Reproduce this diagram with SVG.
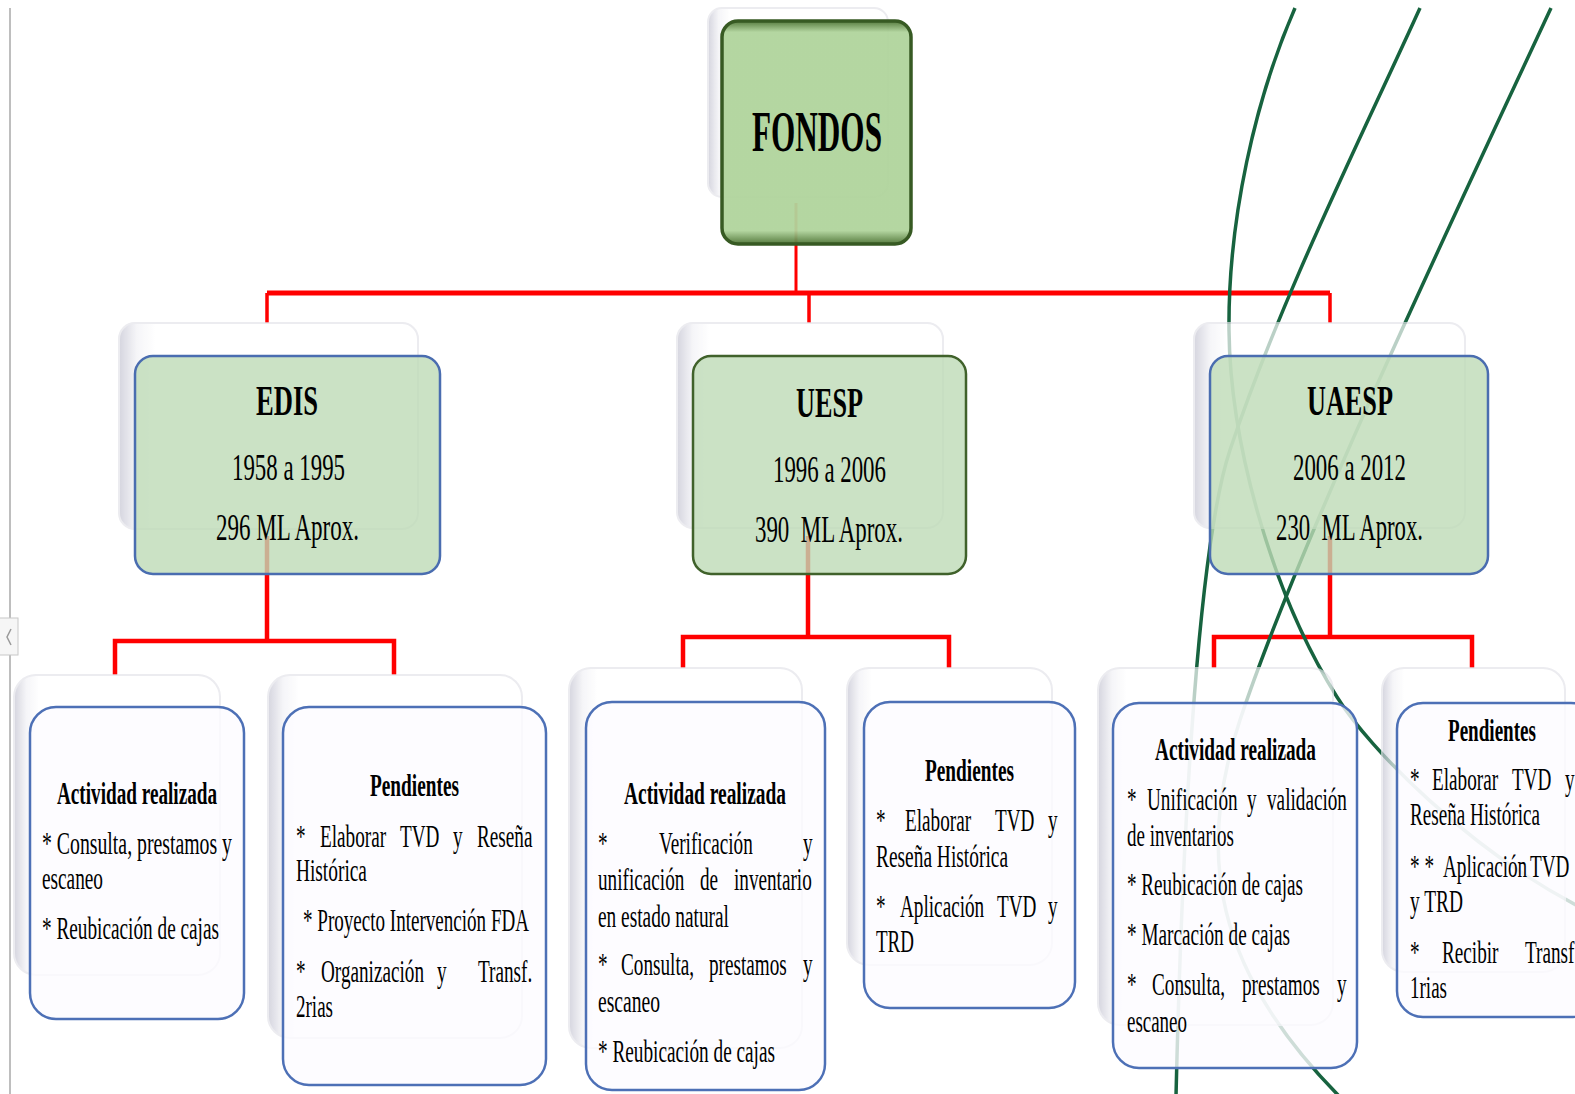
<svg xmlns="http://www.w3.org/2000/svg" width="1575" height="1094" viewBox="0 0 1575 1094">
<style>
.shadow{fill:url(#sh);stroke:#e4e4ea;stroke-width:2;opacity:0.7}
.lvl1{fill:rgb(190,219,183);fill-opacity:0.8;stroke:#4a6db0;stroke-width:2.5}
.lvl1g{fill:rgb(190,219,183);fill-opacity:0.8;stroke:#40622b;stroke-width:2.5}
.leaf{fill:#fdfbff;fill-opacity:0.8;stroke:#4d70b6;stroke-width:2.5}
.red{fill:none;stroke:#ff0000;stroke-linejoin:miter}
.curve{fill:none;stroke:#17633f;stroke-width:3.5}
text{font-family:"Liberation Serif","Times New Roman",serif;fill:#000}
.h0{font-size:56px;font-weight:bold}
.h1{font-size:42px;font-weight:bold}
.yr{font-size:37px}
.ti{font-size:32px;font-weight:bold}
.bd{font-size:32px}
</style>
<defs>
<linearGradient id="sh" x1="0" y1="0" x2="1" y2="0">
<stop offset="0" stop-color="#c4c4d2"/>
<stop offset="0.06" stop-color="#f2f2f6"/>
<stop offset="0.12" stop-color="#ffffff"/>
<stop offset="1" stop-color="#ffffff"/>
</linearGradient>
<linearGradient id="fg" x1="0" y1="0" x2="0" y2="1">
<stop offset="0" stop-color="#4d7434"/>
<stop offset="0.05" stop-color="#b0d49c"/>
<stop offset="0.94" stop-color="#b0d49c"/>
<stop offset="1" stop-color="#4d7434"/>
</linearGradient>
</defs>
<rect x="0" y="0" width="1575" height="1094" fill="#ffffff"/>
<line x1="10" y1="8" x2="10" y2="1094" stroke="#a8a8a8" stroke-width="1.5"/>
<g id="side-tab">
<rect x="-1" y="618" width="19" height="37" fill="#f6f6f6" stroke="#c8c8c8" stroke-width="1"/>
<path d="M11,629 L7,637 L11,645" fill="none" stroke="#9a9a9a" stroke-width="1.5"/>
</g>

<g id="connectors">
<path class="red" stroke-width="3" d="M796,203 V293"/>
<path class="red" stroke-width="5" d="M267,293 H1330"/>
<path class="red" stroke-width="3.5" d="M267,293 V323 M809,293 V323 M1330,293 V323"/>
<path class="red" stroke-width="4.5" d="M267,536 V641 M115,675 V641 H394 V675"/>
<path class="red" stroke-width="4.5" d="M808,536 V637 M683,668 V637 H949 V668"/>
<path class="red" stroke-width="4.5" d="M1330,536 V637 M1214,668 V637 H1472 V668"/>
</g>

<g id="decor-curves">
<path class="curve" d="M1295,8 C1255,100 1228,220 1229,330 C1230,440 1270,590 1337,697 C1370,750 1470,850 1578,906"/>
<path class="curve" d="M1420,8 C1360,140 1280,300 1230,450 C1200,540 1183,800 1176,1096"/>
<path class="curve" d="M1551,8 C1450,225 1300,540 1240,720 C1195,855 1215,970 1339,1096"/>
</g>

<g id="fondos">
<rect class="shadow" x="708" y="8" width="180" height="189" rx="14"/>
<rect x="722" y="21" width="189" height="223" rx="16" fill="url(#fg)" fill-opacity="0.95" stroke="#375a23" stroke-width="3.5"/>
<g transform="scale(0.6,1)">
<text class="h0" x="1253.3" y="151" textLength="216.7" lengthAdjust="spacingAndGlyphs">FONDOS</text>
</g>
</g>

<g id="edis">
<rect class="shadow" x="119" y="323" width="299" height="206" rx="16"/>
<rect class="lvl1" x="135" y="356" width="305" height="218" rx="18"/>
<g transform="scale(0.6,1)">
<text class="h1" x="426.7" y="415" textLength="103.3" lengthAdjust="spacingAndGlyphs">EDIS</text>
<text class="yr" x="386.7" y="480" textLength="188.3" lengthAdjust="spacingAndGlyphs">1958 a 1995</text>
<text class="yr" x="360" y="540" textLength="238.3" lengthAdjust="spacingAndGlyphs">296 ML Aprox.</text>
</g>
</g>

<g id="uesp">
<rect class="shadow" x="677" y="323" width="266" height="205" rx="16"/>
<rect class="lvl1g" x="693" y="356" width="273" height="218" rx="18"/>
<g transform="scale(0.6,1)">
<text class="h1" x="1326.7" y="417" textLength="111.7" lengthAdjust="spacingAndGlyphs">UESP</text>
<text class="yr" x="1288.3" y="482" textLength="188.3" lengthAdjust="spacingAndGlyphs">1996 a 2006</text>
<text class="yr" x="1258.3" y="542" textLength="246.7" lengthAdjust="spacingAndGlyphs" xml:space="preserve">390  ML Aprox.</text>
</g>
</g>

<g id="uaesp">
<rect class="shadow" x="1194" y="323" width="271" height="205" rx="16"/>
<rect class="lvl1" x="1210" y="356" width="278" height="218" rx="18"/>
<g transform="scale(0.6,1)">
<text class="h1" x="2178.3" y="415" textLength="143.3" lengthAdjust="spacingAndGlyphs">UAESP</text>
<text class="yr" x="2155" y="480" textLength="188.3" lengthAdjust="spacingAndGlyphs">2006 a 2012</text>
<text class="yr" x="2126.7" y="540" textLength="245" lengthAdjust="spacingAndGlyphs" xml:space="preserve">230  ML Aprox.</text>
</g>
</g>

<g id="edis-actividad">
<rect class="shadow" x="14" y="675" width="206" height="300" rx="22"/>
<rect class="leaf" x="30" y="707" width="214" height="312" rx="26"/>
<g transform="scale(0.6,1)">
<text class="ti" x="95" y="804" textLength="266.7" lengthAdjust="spacingAndGlyphs">Actividad realizada</text>
<text class="bd" x="70" y="854" textLength="316.7" lengthAdjust="spacingAndGlyphs">* Consulta, prestamos y</text>
<text class="bd" x="70" y="889" textLength="101.7" lengthAdjust="spacingAndGlyphs">escaneo</text>
<text class="bd" x="70" y="939" textLength="295" lengthAdjust="spacingAndGlyphs">* Reubicación de cajas</text>
</g>
</g>

<g id="edis-pendientes">
<rect class="shadow" x="268" y="675" width="254" height="363" rx="22"/>
<rect class="leaf" x="283" y="707" width="263" height="378" rx="26"/>
<g transform="scale(0.6,1)">
<text class="ti" x="616.7" y="796" textLength="148.3" lengthAdjust="spacingAndGlyphs">Pendientes</text>
<text class="bd" y="847"><tspan x="493.3">*</tspan><tspan x="533.3">Elaborar</tspan><tspan x="666.7">TVD</tspan><tspan x="755">y</tspan><tspan x="795">Reseña</tspan></text>
<text class="bd" x="493.3" y="881" textLength="118.3" lengthAdjust="spacingAndGlyphs">Histórica</text>
<text class="bd" x="505" y="931" textLength="376.7" lengthAdjust="spacingAndGlyphs">* Proyecto Intervención FDA</text>
<text class="bd" y="982"><tspan x="493.3">*</tspan><tspan x="535">Organización</tspan><tspan x="728.3">y</tspan><tspan x="796.7">Transf.</tspan></text>
<text class="bd" x="493.3" y="1017" textLength="61.7" lengthAdjust="spacingAndGlyphs">2rias</text>
</g>
</g>

<g id="uesp-actividad">
<rect class="shadow" x="569" y="668" width="233" height="380" rx="22"/>
<rect class="leaf" x="586" y="702" width="239" height="388" rx="26"/>
<g transform="scale(0.6,1)">
<text class="ti" x="1040" y="804" textLength="270" lengthAdjust="spacingAndGlyphs">Actividad realizada</text>
<text class="bd" y="854"><tspan x="996.7">*</tspan><tspan x="1098.3">Verificación</tspan><tspan x="1338.3">y</tspan></text>
<text class="bd" y="890"><tspan x="996.7">unificación</tspan><tspan x="1166.7">de</tspan><tspan x="1223.3">inventario</tspan></text>
<text class="bd" x="996.7" y="927" textLength="218.3" lengthAdjust="spacingAndGlyphs">en estado natural</text>
<text class="bd" y="975"><tspan x="996.7">*</tspan><tspan x="1035">Consulta,</tspan><tspan x="1181.7">prestamos</tspan><tspan x="1338.3">y</tspan></text>
<text class="bd" x="996.7" y="1012" textLength="103.3" lengthAdjust="spacingAndGlyphs">escaneo</text>
<text class="bd" x="996.7" y="1062" textLength="295" lengthAdjust="spacingAndGlyphs">* Reubicación de cajas</text>
</g>
</g>

<g id="uesp-pendientes">
<rect class="shadow" x="847" y="668" width="205" height="297" rx="22"/>
<rect class="leaf" x="864" y="702" width="211" height="306" rx="26"/>
<g transform="scale(0.6,1)">
<text class="ti" x="1541.7" y="781" textLength="148.3" lengthAdjust="spacingAndGlyphs">Pendientes</text>
<text class="bd" y="831"><tspan x="1460">*</tspan><tspan x="1508.3">Elaborar</tspan><tspan x="1658.3">TVD</tspan><tspan x="1746.7">y</tspan></text>
<text class="bd" x="1460" y="867" textLength="220" lengthAdjust="spacingAndGlyphs">Reseña Histórica</text>
<text class="bd" y="917"><tspan x="1460">*</tspan><tspan x="1500">Aplicación</tspan><tspan x="1661.7">TVD</tspan><tspan x="1746.7">y</tspan></text>
<text class="bd" x="1460" y="952" textLength="63.3" lengthAdjust="spacingAndGlyphs">TRD</text>
</g>
</g>

<g id="uaesp-actividad">
<rect class="shadow" x="1098" y="668" width="235" height="357" rx="22"/>
<rect class="leaf" x="1113" y="703" width="244" height="365" rx="26"/>
<g transform="scale(0.6,1)">
<text class="ti" x="1925" y="760" textLength="268.3" lengthAdjust="spacingAndGlyphs">Actividad realizada</text>
<text class="bd" y="810"><tspan x="1878.3">*</tspan><tspan x="1911.7">Unificación</tspan><tspan x="2078.3">y</tspan><tspan x="2111.7">validación</tspan></text>
<text class="bd" x="1878.3" y="846" textLength="178.3" lengthAdjust="spacingAndGlyphs">de inventarios</text>
<text class="bd" x="1878.3" y="895" textLength="293.3" lengthAdjust="spacingAndGlyphs">* Reubicación de cajas</text>
<text class="bd" x="1878.3" y="945" textLength="271.7" lengthAdjust="spacingAndGlyphs">* Marcación de cajas</text>
<text class="bd" y="995"><tspan x="1878.3">*</tspan><tspan x="1920">Consulta,</tspan><tspan x="2070">prestamos</tspan><tspan x="2228.3">y</tspan></text>
<text class="bd" x="1878.3" y="1032" textLength="100" lengthAdjust="spacingAndGlyphs">escaneo</text>
</g>
</g>

<g id="uaesp-pendientes">
<rect class="shadow" x="1382" y="668" width="183" height="304" rx="22"/>
<rect class="leaf" x="1397" y="703" width="200" height="314" rx="26"/>
<g transform="scale(0.6,1)">
<text class="ti" x="2413.3" y="741" textLength="146.7" lengthAdjust="spacingAndGlyphs">Pendientes</text>
<text class="bd" y="790"><tspan x="2350">*</tspan><tspan x="2386.7">Elaborar</tspan><tspan x="2520">TVD</tspan><tspan x="2608.3">y</tspan></text>
<text class="bd" x="2350" y="825" textLength="216.7" lengthAdjust="spacingAndGlyphs">Reseña Histórica</text>
<text class="bd" y="877"><tspan x="2350">* *</tspan><tspan x="2405">Aplicación</tspan><tspan x="2550">TVD</tspan></text>
<text class="bd" x="2350" y="912" textLength="88.3" lengthAdjust="spacingAndGlyphs">y TRD</text>
<text class="bd" y="963"><tspan x="2350">*</tspan><tspan x="2403.3">Recibir</tspan><tspan x="2541.7">Transf</tspan></text>
<text class="bd" x="2350" y="998" textLength="61.7" lengthAdjust="spacingAndGlyphs">1rias</text>
</g>
</g>
</svg>
